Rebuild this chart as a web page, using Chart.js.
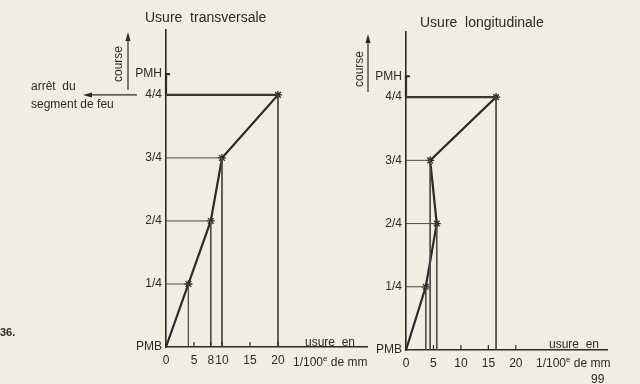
<!DOCTYPE html>
<html>
<head>
<meta charset="utf-8">
<script src="https://cdn.jsdelivr.net/npm/chart.js@4/dist/chart.umd.min.js"></script>
<style>
  html,body{margin:0;padding:0;}
  body{width:640px;height:384px;background:#f2ede1;position:relative;overflow:hidden;font-family:"Liberation Sans",Arial,sans-serif;color:#2a2a2a;}
  .c{position:absolute;top:0;}
  .t{position:absolute;white-space:nowrap;line-height:1;}
  .rot{transform:translate(-50%,-50%) rotate(-90deg);}
  sup{font-size:8px;vertical-align:5px;line-height:0;}
</style>
</head>
<body>
<canvas id="left" class="c" style="left:0;width:380px;height:384px" width="380" height="384"></canvas>
<canvas id="right" class="c" style="left:360px;width:280px;height:384px" width="280" height="384"></canvas>

<div class="t" style="left:145px;top:10px;font-size:14px">Usure&nbsp; transversale</div>
<div class="t" style="left:420px;top:15px;font-size:14px">Usure&nbsp; longitudinale</div>
<div class="t" style="left:31px;top:80px;font-size:12px">arrêt&nbsp; du</div>
<div class="t" style="left:31px;top:98px;font-size:12px">segment de feu</div>
<div class="t rot" style="left:118px;top:64px;font-size:12px;position:absolute">course</div>
<div class="t rot" style="left:359px;top:69px;font-size:12px;position:absolute">course</div>
<div class="t" style="left:0px;top:327px;font-size:11px;font-weight:bold">36.</div>
<div class="t" style="left:305px;top:336px;font-size:12px">usure&nbsp; en</div>
<div class="t" style="left:293px;top:356px;font-size:12px">1/100<sup>e</sup> de mm</div>
<div class="t" style="left:549px;top:338px;font-size:12px">usure&nbsp; en</div>
<div class="t" style="left:536px;top:357px;font-size:12px">1/100<sup>e</sup> de mm</div>
<div class="t" style="left:591px;top:373px;font-size:12px">99</div>

<script>
// ---- data ----
const strokeLevels = [0, 1, 2, 3, 4];               // PMB, 1/4, 2/4, 3/4, 4/4
const pmhLevel = 4.33;
const yTickValues = [0, 1, 2, 3, 4, 4.33];
const yTickLabels = ['PMB', '1/4', '2/4', '3/4', '4/4', 'PMH'];
const transWear = [0, 4, 8, 10, 20];                // Usure transversale (1/100 mm)
const longWear = [0, 3.6, 5.6, 4.4, 16.4];          // Usure longitudinale (1/100 mm)
const transXTicks = [0, 5, 8, 10, 15, 20];
const longXTicks = [0, 5, 10, 15, 20];

const INK = '#2a2a2a';
const THIN = '#4a4a4a';
const FONT = {family: '"Liberation Sans", Arial, sans-serif', size: 12};

function buildDatasets(wear) {
  const ds = [];
  // thin drop lines from axis to each point and down to the x axis
  for (let i = 1; i < strokeLevels.length; i++) {
    ds.push({
      data: [{x: 0, y: strokeLevels[i]}, {x: wear[i], y: strokeLevels[i]}, {x: wear[i], y: 0}],
      borderColor: THIN, borderWidth: 1, pointRadius: 0, fill: false, tension: 0, clip: false
    });
  }
  // main wear profile: PMB -> 4/4 then back to the axis
  const main = strokeLevels.map((s, i) => ({x: wear[i], y: s}));
  main.push({x: 0, y: strokeLevels[strokeLevels.length - 1]});
  ds.push({
    data: main, borderColor: INK, borderWidth: 2.2, fill: false, tension: 0, clip: false,
    pointStyle: 'star',
    pointRadius: main.map((p, i) => (i === 0 || i === main.length - 1) ? 0 : 4),
    pointBorderColor: INK, pointBorderWidth: 1.3, pointBackgroundColor: INK
  });
  // thick axis segment up to PMH with its small tick
  ds.push({
    data: [{x: 0, y: strokeLevels[4]}, {x: 0, y: pmhLevel}, {x: 0.7, y: pmhLevel}],
    borderColor: INK, borderWidth: 2.2, pointRadius: 0, fill: false, tension: 0, clip: false
  });
  return ds;
}

const decor = {
  id: 'decor',
  afterDraw(chart, args, opts) {
    const ctx = chart.ctx, xs = chart.scales.x, ys = chart.scales.y;
    ctx.save();
    ctx.strokeStyle = INK; ctx.fillStyle = INK; ctx.lineWidth = 1.2;
    // inner tick marks on x axis
    const y0 = ys.getPixelForValue(0);
    opts.xticks.forEach(v => {
      if (v === 0) return;
      const px = xs.getPixelForValue(v);
      ctx.beginPath(); ctx.moveTo(px, y0); ctx.lineTo(px, y0 - 5); ctx.stroke();
    });
    // "course" arrow
    const ax = xs.left - opts.courseOffset;
    const yTop = ys.top + 2, yBot = ys.getPixelForValue(4) - 5;
    ctx.beginPath(); ctx.moveTo(ax, yBot); ctx.lineTo(ax, yTop + 6); ctx.stroke();
    ctx.beginPath(); ctx.moveTo(ax, yTop); ctx.lineTo(ax - 2.5, yTop + 9); ctx.lineTo(ax + 2.5, yTop + 9); ctx.closePath(); ctx.fill();
    // "arrêt du segment de feu" arrow
    if (opts.stopArrow) {
      const py = ys.getPixelForValue(4);
      const x1 = xs.left - 29, x0 = 83;
      ctx.beginPath(); ctx.moveTo(x1, py); ctx.lineTo(x0 + 6, py); ctx.stroke();
      ctx.beginPath(); ctx.moveTo(x0, py); ctx.lineTo(x0 + 9, py - 2.5); ctx.lineTo(x0 + 9, py + 2.5); ctx.closePath(); ctx.fill();
    }
    ctx.restore();
  }
};

function makeChart(id, wear, xTicks, cfg) {
  return new Chart(document.getElementById(id), {
    type: 'line',
    data: {datasets: buildDatasets(wear)},
    options: {
      responsive: false, animation: false, events: [],
      layout: {padding: {left: 0, right: cfg.padRight, top: cfg.padTop, bottom: 0}},
      plugins: {legend: {display: false}, tooltip: {enabled: false}, decor: cfg.decor},
      scales: {
        x: {
          type: 'linear', min: 0, max: cfg.xMax,
          grid: {display: false, drawTicks: false},
          border: {display: true, color: INK, width: 1.6},
          afterBuildTicks: s => { s.ticks = xTicks.map(v => ({value: v})); },
          afterFit: s => { s.height = cfg.xAxisH; },
          ticks: {color: INK, font: FONT, padding: 6, maxRotation: 0, autoSkip: false,
                  callback: v => String(v)}
        },
        y: {
          type: 'linear', min: 0, max: 5.03,
          grid: {display: false, drawTicks: false},
          border: {display: true, color: INK, width: 1.6},
          afterBuildTicks: s => { s.ticks = yTickValues.map(v => ({value: v})); },
          afterFit: s => { s.width = cfg.yAxisW; },
          ticks: {color: INK, font: FONT, padding: 4, autoSkip: false,
                  callback: v => yTickLabels[yTickValues.indexOf(v)]}
        }
      }
    },
    plugins: [decor]
  });
}

makeChart('left', transWear, transXTicks, {
  padRight: 13, padTop: 30, xMax: 35.9, xAxisH: 37, yAxisW: 166,
  decor: {xticks: transXTicks, courseOffset: 38, stopArrow: true}
});
makeChart('right', longWear, longXTicks, {
  padRight: 33, padTop: 32, xMax: 36.6, xAxisH: 34, yAxisW: 46,
  decor: {xticks: longXTicks, courseOffset: 38, stopArrow: false}
});
</script>
</body>
</html>
